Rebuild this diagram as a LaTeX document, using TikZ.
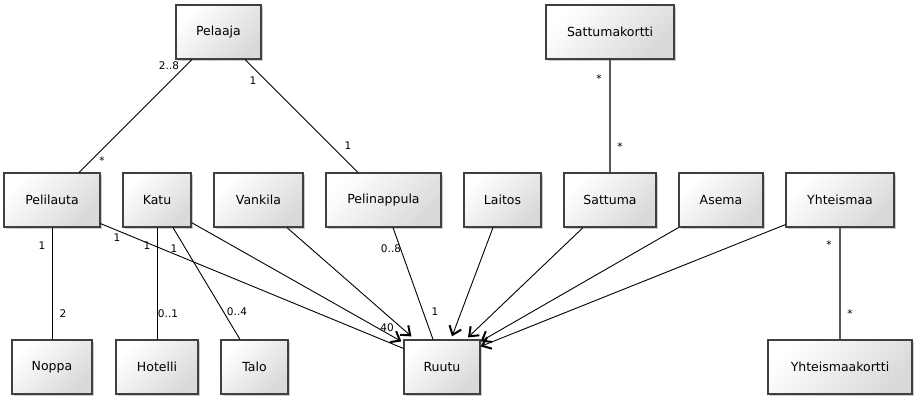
\documentclass[tikz,border=0pt]{standalone}
\usepackage{fontspec}
\setmainfont{DejaVu Sans}
\usetikzlibrary{arrows.meta,shadows}

\newlength{\du}
\setlength{\du}{1pt}

\definecolor{dialinecolor}{rgb}{0.000000, 0.000000, 0.000000}
\definecolor{boxlinecolor}{rgb}{0.250000, 0.250000, 0.250000}
\definecolor{boxfillcolor}{rgb}{0.850000, 0.850000, 0.850000}
\definecolor{cardlinecolor}{rgb}{0.350000, 0.350000, 0.350000}

\tikzset{
  classbox/.style={draw=boxlinecolor, line width=1.2\du, top color=white,
    bottom color=boxfillcolor, shading angle=45, minimum height=54\du,
    inner sep=0pt, font=\fontsize{12.5}{14}\selectfont,
    drop shadow={shadow xshift=1.5\du, shadow yshift=-1.5\du, fill=black, opacity=0.2}},
  assoc/.style={draw=dialinecolor, line width=0.9\du},
  navig/.style={assoc, -{Straight Barb[length=8pt,width=12.5pt,line width=2pt]}},
  cardline/.style={draw=cardlinecolor, line width=1.6\du},
  mult/.style={inner sep=0pt, font=\fontsize{10.5}{12}\selectfont},
}

\begin{document}
\begin{tikzpicture}[x=\du,y=-\du]
\useasboundingbox (0,0) rectangle (918,400);
% top row
\node[classbox, minimum width=85\du] (pelaaja) at (218.5,32) {Pelaaja};
\node[classbox, minimum width=128\du] (sattumakortti) at (610,32) {Sattumakortti};
% middle row
\node[classbox, minimum width=96\du] (pelilauta) at (52,200) {Pelilauta};
\node[classbox, minimum width=68\du] (katu) at (157,200) {Katu};
\node[classbox, minimum width=89\du] (vankila) at (258.5,200) {Vankila};
\node[classbox, minimum width=115\du] (pelinappula) at (383.5,200) {Pelinappula};
\node[classbox, minimum width=77\du] (laitos) at (502.5,200) {Laitos};
\node[classbox, minimum width=92\du] (sattuma) at (610,200) {Sattuma};
\node[classbox, minimum width=84\du] (asema) at (721,200) {Asema};
\node[classbox, minimum width=108\du] (yhteismaa) at (840,200) {Yhteismaa};
% bottom row
\node[classbox, minimum width=80\du] (noppa) at (52,367) {Noppa};
\node[classbox, minimum width=82\du] (hotelli) at (157,367) {Hotelli};
\node[classbox, minimum width=67\du] (talo) at (254.5,367) {Talo};
\node[classbox, minimum width=76\du] (ruutu) at (442,367) {Ruutu};
\node[classbox, minimum width=144\du] (yhteismaakortti) at (840,367) {Yhteismaakortti};

% associations
\draw[assoc] ([xshift=-26.5\du]pelaaja.south) -- ([xshift=27\du]pelilauta.north);
\draw[assoc] ([xshift=26.5\du]pelaaja.south) -- ([xshift=-25.5\du]pelinappula.north);
\draw[cardline] (sattumakortti.south) -- (sattuma.north);
\draw[assoc] (pelilauta.south) -- (noppa.north);
\draw[assoc] (katu.south) -- (hotelli.north);
\draw[assoc] ([xshift=16\du]katu.south) -- ([xshift=-14.5\du]talo.north);
\draw[assoc] ([yshift=4\du]pelilauta.south east) -- ([yshift=-9\du]ruutu.north west);
\draw[assoc] ([xshift=9.5\du]pelinappula.south) -- ([xshift=-9\du]ruutu.north);
\draw[cardline] (yhteismaa.south) -- (yhteismaakortti.north);

% navigable to Ruutu
\draw[navig] ([yshift=5\du]katu.south east) -- ([xshift=-2\du,yshift=-2\du]ruutu.north west);
\draw[navig] ([xshift=28.5\du]vankila.south) -- ([xshift=8\du,yshift=3\du]ruutu.north west);
\draw[navig] ([xshift=-9.5\du]laitos.south) -- ([xshift=10\du,yshift=3\du]ruutu.north);
\draw[navig] ([xshift=-27\du]sattuma.south) -- ([xshift=26\du,yshift=2\du]ruutu.north);
\draw[navig] (asema.south west) -- ([yshift=-2\du]ruutu.north east);
\draw[navig] ([yshift=3\du]yhteismaa.south west) -- ([yshift=-7\du]ruutu.north east);

% multiplicities
\node[mult] (mPelaajaLauta) at (169,66) {2..8};
\node[mult] (mLautaPelaaja) at (102,161) {*};
\node[mult] (mPelaajaNappula) at (253,81) {1};
\node[mult] (mNappulaPelaaja) at (348,146) {1};
\node[mult] (mKorttiSattuma) at (599,79) {*};
\node[mult] (mSattumaKortti) at (620,147) {*};
\node[mult] (mLautaNoppa) at (42,246) {1};
\node[mult] (mNoppaLauta) at (63,314) {2};
\node[mult] (mLautaRuutu) at (117,238) {1};
\node[mult] (mKatuHotelli) at (147,246) {1};
\node[mult] (mKatuTalo) at (174,249) {1};
\node[mult] (mHotelliKatu) at (168,314) {0..1};
\node[mult] (mTaloKatu) at (237,312) {0..4};
\node[mult] (mRuutuLauta) at (387,328) {40};
\node[mult] (mNappulaRuutu) at (391,249) {0..8};
\node[mult] (mRuutuNappula) at (435,312) {1};
\node[mult] (mYhteisKortti) at (829,245) {*};
\node[mult] (mKorttiYhteis) at (850,314) {*};
\end{tikzpicture}
\end{document}
